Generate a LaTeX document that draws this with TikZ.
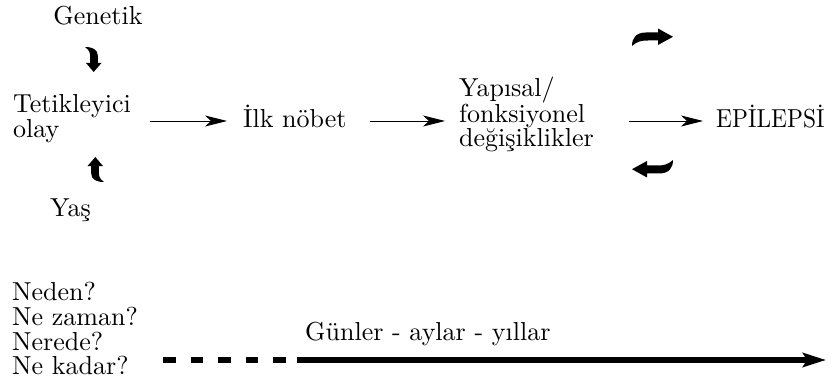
\documentclass[tikz,border=0pt]{standalone}
\usepackage{fontspec}
\usepackage{graphicx}
\setmainfont{lmroman10-regular}[Extension=.otf]
\usetikzlibrary{arrows.meta}
\begin{document}
\begin{tikzpicture}[x=1pt,y=-1pt,
  txt/.style={inner sep=0pt, font=\fontsize{26}{24.8}\selectfont, align=left},
  conn/.style={line width=0.9pt, -{Stealth[length=22pt,width=11pt,inset=6pt]}},
  hook/.pic={\fill (-20.5,9) .. controls (-20.5,1) and (-16.5,-4.5) .. (-6.5,-4.5) -- (5.5,-4.5) -- (5.5,-8.5) -- (20.5,-0.2) -- (5.5,8) -- (5.5,3.5) -- (-4.5,3.5) .. controls (-11.5,3.5) and (-15.5,4.5) .. (-20.5,9) -- cycle;}
]
\useasboundingbox (0,0) rectangle (831,385);

% top row texts
\node[txt, anchor=base] (gen) at (98,25) {Genetik};
\node[txt, anchor=north west] (tet) at (13,94) {Tetikleyici\\olay};
\node[txt, anchor=base west] (yas) at (50,217) {Yaş};
\node[txt, anchor=base west] (ilk) at (243,128) {İlk nöbet};
\node[txt, anchor=north west] (yap) at (459,76.5) {Yapısal/\\fonksiyonel\\değişiklikler};
\node[txt, anchor=base west] (epi) at (716,128) {\scalebox{0.9}[1]{EPİLEPSİ}};

% thin arrows
\draw[conn] ([xshift=19pt]tet.east |- 0,121) -- ([xshift=-16pt]ilk.west |- 0,121);
\draw[conn] ([xshift=23pt]ilk.east |- 0,121) -- ([xshift=-14pt]yap.west |- 0,121);
\draw[conn] ([xshift=-87pt]epi.west |- 0,121) -- ([xshift=-13pt]epi.west |- 0,121);

% bold hook arrows
\pic at (652.5,37) {hook};
\pic[rotate=180] at (652.5,169) {hook};
\pic[rotate=-90, xscale=0.61, yscale=0.95] at (93.5,59.5) {hook};
\pic[rotate=90, xscale=0.61, yscale=0.95] at (95.5,169.5) {hook};

% bottom part
\node[txt, anchor=north west] (q) at (12,282) {Neden?\\Ne zaman?\\Nerede?\\Ne kadar?};
\node[txt, anchor=base west] (gun) at (305,340) {Günler - aylar - yıllar};
\coordinate (t0) at (163,360);
\coordinate (t1) at (288,360);
\coordinate (t2) at (297,360);
\coordinate (t3) at (826,360);
\draw[line width=5.5pt, dash pattern=on 12.5pt off 15pt] (t0) -- (t1);
\draw[line width=6pt, -{Stealth[length=23pt,width=14pt,inset=4pt]}] (t2) -- (t3);
\end{tikzpicture}
\end{document}
